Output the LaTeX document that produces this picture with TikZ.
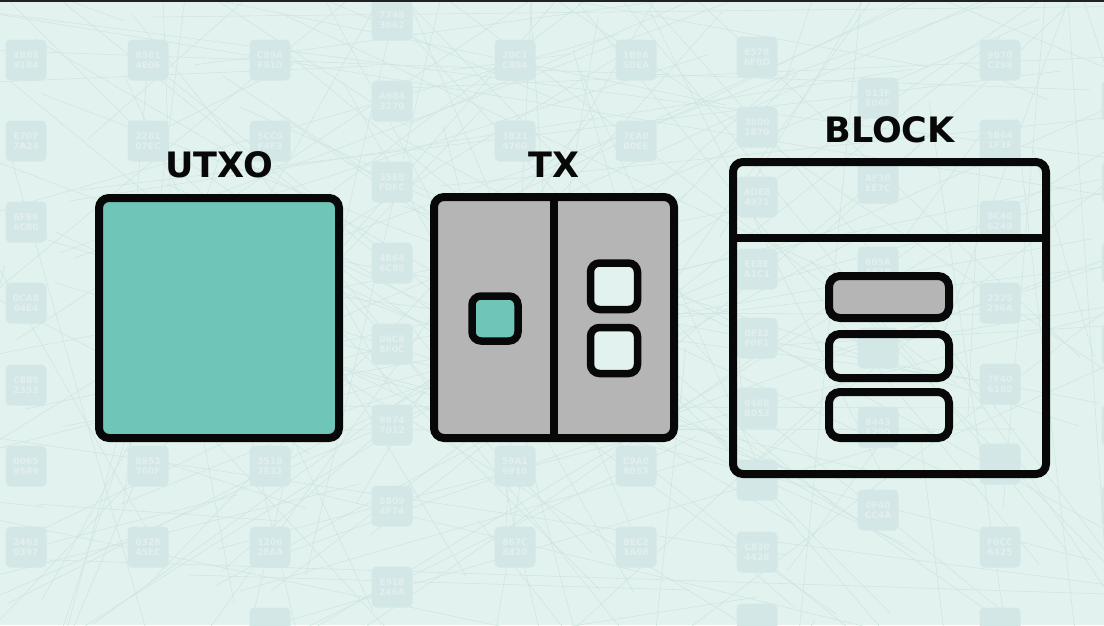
\documentclass[tikz,border=0pt]{standalone}
\usepackage{fontspec}
\setmainfont{DejaVu Sans}
\definecolor{bg}{RGB}{226,243,239}
\definecolor{tile}{RGB}{212,231,231}
\definecolor{tiletxt}{RGB}{226,239,239}
\definecolor{netline}{RGB}{208,228,225}
\definecolor{tealfill}{RGB}{111,198,184}
\definecolor{boxgrey}{RGB}{181,181,181}
\definecolor{ink}{RGB}{8,8,8}
\tikzset{
  frame/.style={draw=ink, line width=8pt, rounded corners=10pt},
  chip/.style={draw=ink, line width=7.5pt, rounded corners=9pt},
  bar/.style={draw=ink, line width=8pt, rounded corners=11pt},
  divider/.style={draw=ink, line width=8pt},
  title/.style={font=\fontsize{35}{35}\selectfont\bfseries, text=ink, inner sep=0pt, anchor=base},
  tilebox/.style={fill=tile, rounded corners=5pt, minimum size=41pt, inner sep=0pt,
    font=\fontsize{9}{10}\selectfont\bfseries, text=tiletxt, align=center},
  netlink/.style={draw=netline, line width=0.55pt}
}
\begin{document}
\begin{tikzpicture}[x=1pt,y=-1pt]
\useasboundingbox (0,0) rectangle (1104,625);
\fill[bg] (0,0) rectangle (1104,625);
\begin{scope}
\clip (0,0) rectangle (1104,625);
% faint network lines
\pgfmathsetseed{1234}
\foreach \i in {1,...,190}{
  \pgfmathsetmacro{\xa}{random(-100,1200)}
  \pgfmathsetmacro{\ya}{random(-100,725)}
  \pgfmathsetmacro{\xb}{random(-100,1200)}
  \pgfmathsetmacro{\yb}{random(-100,725)}
  \draw[netlink] (\xa,\ya) -- (\xb,\yb);
}
% faint tiles with labels
\foreach \x/\y/\a/\b in {
  26/60/4B88/9184, 26/141/E707/7A24, 26/222/6F86/6C80, 26/303/0CA8/04E4,
  26/385/C885/2353, 26/466/0065/9589, 26/547/2463/0397,
  148/60/8581/4E06, 148/141/2281/07EC, 148/466/8953/760F, 148/547/0328/45EC,
  270/60/C89A/F810, 270/141/5CC0/F4F3, 270/466/3518/7E32, 270/547/1206/28AA,
  392/20/7748/3062, 392/101/A684/3270, 392/182/35E8/FDFC, 392/263/4864/6C95,
  392/344/06C8/8F0C, 392/425/9874/7012, 392/506/5809/4F74, 392/587/E918/246A,
  515/60/20C1/C894, 515/141/3B21/4760, 515/466/59A1/9910, 515/547/867C/8820,
  636/60/1B9A/5DEA, 636/141/7EA0/B0EE, 636/466/C9A0/8053, 636/547/BEC2/1A98,
  757/57/E578/6F0D, 757/127/3800/1870, 757/197/ADE8/4971, 757/269/EE8E/A1C1,
  757/338/0F12/F0F1, 757/408/0488/B053, 757/552/C830/4428,
  878/98/913F/E06F, 878/183/AF30/EE7C, 878/267/805A/AE18,
  878/427/8443/E290, 878/510/0F40/CC4A,
  1000/60/9070/C298, 1000/140/5B64/1F3F, 1000/221/8C40/6249, 1000/303/2325/296A,
  1000/384/7F40/6180, 1000/547/F0CC/6425}{
  \node[tilebox] (tile-\x-\y) at (\x,\y) {\a\\\b};
}
% tiles cut by the edges or partly hidden (labels unreadable)
\foreach \x/\y in {270/628, 757/480, 757/624, 878/348, 1000/464, 1000/628,
  1122/101, 1122/182, 1122/263, 1122/344, 1122/425, 1122/506}{
  \node[tilebox] (edge-\x-\y) at (\x,\y) {};
}
\end{scope}
% top dark strip
\fill[ink!90!white] (0,0) rectangle (1104,2);

% UTXO
\node[title] (utxolabel) at (219,177) {UTXO};
\draw[frame, fill=tealfill] (99,198) rectangle (339,438);

% TX
\node[title] (txlabel) at (554,177) {TX};
\fill[boxgrey, rounded corners=10pt] (434,197) rectangle (674,438);
\draw[divider] (554,197) -- (554,438);
\draw[frame] (434,197) rectangle (674,438);
\draw[chip, fill=tealfill] (472,296) rectangle (518,341);
\draw[chip, fill=bg] (590.5,263) rectangle (637.5,309.5);
\draw[chip, fill=bg] (590.5,327.5) rectangle (637.5,373.5);

% BLOCK
\node[title] (blocklabel) at (889.5,142) {BLOCK};
\draw[divider] (733,238) -- (1046,238);
\draw[frame] (733,162) rectangle (1046,474);
\draw[bar, fill=boxgrey] (829,276) rectangle (949,318);
\draw[bar] (829,334) rectangle (949,378);
\draw[bar] (829,392) rectangle (949,438);
\end{tikzpicture}
\end{document}
